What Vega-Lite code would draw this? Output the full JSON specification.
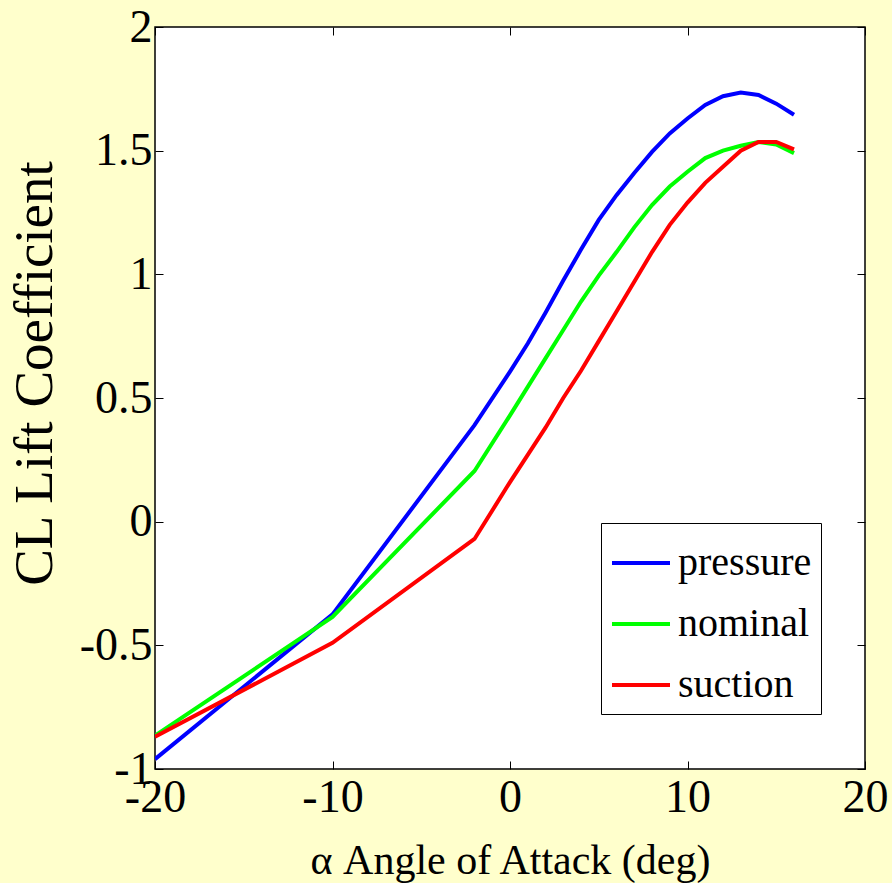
{
  "$schema": "https://vega.github.io/schema/vega-lite/v6.json",
  "autosize": "none",
  "width": 710,
  "height": 742,
  "padding": {"left": 155, "top": 27, "right": 27, "bottom": 114},
  "background": "#FFFFCC",
  "config": {
    "font": "Liberation Serif",
    "view": {"fill": "white", "stroke": "black", "strokeWidth": 1.5},
    "axis": {
      "domain": false,
      "grid": false,
      "labelFlush": false,
      "labelOverlap": false,
      "tickColor": "black",
      "tickWidth": 1,
      "tickSize": -8,
      "labelColor": "black",
      "labelFont": "Liberation Serif",
      "labelFontSize": 46,
      "titleFont": "Liberation Serif",
      "titleFontWeight": "normal",
      "titleColor": "black"
    }
  },
  "data": {
    "values": [
      {"a": -20, "cl": -0.96, "s": "pressure"},
      {"a": -10, "cl": -0.375, "s": "pressure"},
      {"a": -2, "cl": 0.39, "s": "pressure"},
      {"a": 0, "cl": 0.607, "s": "pressure"},
      {"a": 1, "cl": 0.72, "s": "pressure"},
      {"a": 2, "cl": 0.845, "s": "pressure"},
      {"a": 3, "cl": 0.975, "s": "pressure"},
      {"a": 4, "cl": 1.1, "s": "pressure"},
      {"a": 5, "cl": 1.22, "s": "pressure"},
      {"a": 6, "cl": 1.32, "s": "pressure"},
      {"a": 7, "cl": 1.41, "s": "pressure"},
      {"a": 8, "cl": 1.495, "s": "pressure"},
      {"a": 9, "cl": 1.57, "s": "pressure"},
      {"a": 10, "cl": 1.63, "s": "pressure"},
      {"a": 11, "cl": 1.685, "s": "pressure"},
      {"a": 12, "cl": 1.72, "s": "pressure"},
      {"a": 13, "cl": 1.735, "s": "pressure"},
      {"a": 14, "cl": 1.725, "s": "pressure"},
      {"a": 15, "cl": 1.69, "s": "pressure"},
      {"a": 16, "cl": 1.645, "s": "pressure"},
      {"a": -20, "cl": -0.865, "s": "nominal"},
      {"a": -10, "cl": -0.385, "s": "nominal"},
      {"a": -2, "cl": 0.205, "s": "nominal"},
      {"a": 0, "cl": 0.43, "s": "nominal"},
      {"a": 1, "cl": 0.545, "s": "nominal"},
      {"a": 2, "cl": 0.66, "s": "nominal"},
      {"a": 3, "cl": 0.775, "s": "nominal"},
      {"a": 4, "cl": 0.89, "s": "nominal"},
      {"a": 5, "cl": 0.995, "s": "nominal"},
      {"a": 6, "cl": 1.09, "s": "nominal"},
      {"a": 7, "cl": 1.19, "s": "nominal"},
      {"a": 8, "cl": 1.28, "s": "nominal"},
      {"a": 9, "cl": 1.355, "s": "nominal"},
      {"a": 10, "cl": 1.415, "s": "nominal"},
      {"a": 11, "cl": 1.47, "s": "nominal"},
      {"a": 12, "cl": 1.5, "s": "nominal"},
      {"a": 13, "cl": 1.52, "s": "nominal"},
      {"a": 14, "cl": 1.535, "s": "nominal"},
      {"a": 15, "cl": 1.525, "s": "nominal"},
      {"a": 16, "cl": 1.49, "s": "nominal"},
      {"a": -20, "cl": -0.87, "s": "suction"},
      {"a": -10, "cl": -0.49, "s": "suction"},
      {"a": -2, "cl": -0.07, "s": "suction"},
      {"a": 0, "cl": 0.16, "s": "suction"},
      {"a": 1, "cl": 0.27, "s": "suction"},
      {"a": 2, "cl": 0.38, "s": "suction"},
      {"a": 3, "cl": 0.5, "s": "suction"},
      {"a": 4, "cl": 0.61, "s": "suction"},
      {"a": 5, "cl": 0.73, "s": "suction"},
      {"a": 6, "cl": 0.85, "s": "suction"},
      {"a": 7, "cl": 0.97, "s": "suction"},
      {"a": 8, "cl": 1.09, "s": "suction"},
      {"a": 9, "cl": 1.2, "s": "suction"},
      {"a": 10, "cl": 1.29, "s": "suction"},
      {"a": 11, "cl": 1.37, "s": "suction"},
      {"a": 12, "cl": 1.435, "s": "suction"},
      {"a": 13, "cl": 1.5, "s": "suction"},
      {"a": 14, "cl": 1.535, "s": "suction"},
      {"a": 15, "cl": 1.535, "s": "suction"},
      {"a": 16, "cl": 1.505, "s": "suction"}
    ]
  },
  "layer": [
    {
      "mark": {"type": "line", "strokeWidth": 4, "clip": true},
      "encoding": {
        "x": {
          "field": "a", "type": "quantitative",
          "scale": {"domain": [-20, 20], "nice": false, "zero": false},
          "axis": {
            "orient": "bottom",
            "values": [-20, -10, 0, 10, 20],
            "labelExpr": "toString(datum.value)",
            "labelPadding": 14,
            "title": "α Angle of Attack (deg)",
            "titleFontSize": 42,
            "titleBaseline": "top",
            "titleY": 71
          }
        },
        "y": {
          "field": "cl", "type": "quantitative",
          "scale": {"domain": [-1, 2], "nice": false, "zero": false},
          "axis": {
            "orient": "left",
            "values": [-1, -0.5, 0, 0.5, 1, 1.5, 2],
            "labelExpr": "toString(datum.value)",
            "labelPadding": 11,
            "title": "CL Lift Coefficient",
            "titleFontSize": 55,
            "titlePadding": 16,
            "titleY": 346
          }
        },
        "color": {
          "field": "s", "type": "nominal",
          "scale": {"domain": ["pressure", "nominal", "suction"], "range": ["#0000FF", "#00FF00", "#FF0000"]},
          "legend": {
            "orient": "none",
            "legendX": 446,
            "legendY": 496,
            "title": null,
            "fillColor": "white",
            "strokeColor": "black",
            "padding": 9,
            "symbolType": "stroke",
            "symbolSize": 3364,
            "symbolStrokeWidth": 4,
            "labelFont": "Liberation Serif",
            "labelFontSize": 40,
            "labelColor": "black",
            "labelOffset": 6,
            "labelLimit": 400,
            "rowPadding": 10
          }
        }
      }
    },
    {
      "mark": {"type": "line", "strokeWidth": 4, "opacity": 0},
      "encoding": {
        "x": {
          "field": "a", "type": "quantitative",
          "axis": {"orient": "top", "values": [-20, -10, 0, 10, 20], "labels": false, "title": null}
        },
        "y": {
          "field": "cl", "type": "quantitative",
          "axis": {"orient": "right", "values": [-1, -0.5, 0, 0.5, 1, 1.5, 2], "labels": false, "title": null}
        },
        "detail": {"field": "s", "type": "nominal"}
      }
    }
  ]
}
